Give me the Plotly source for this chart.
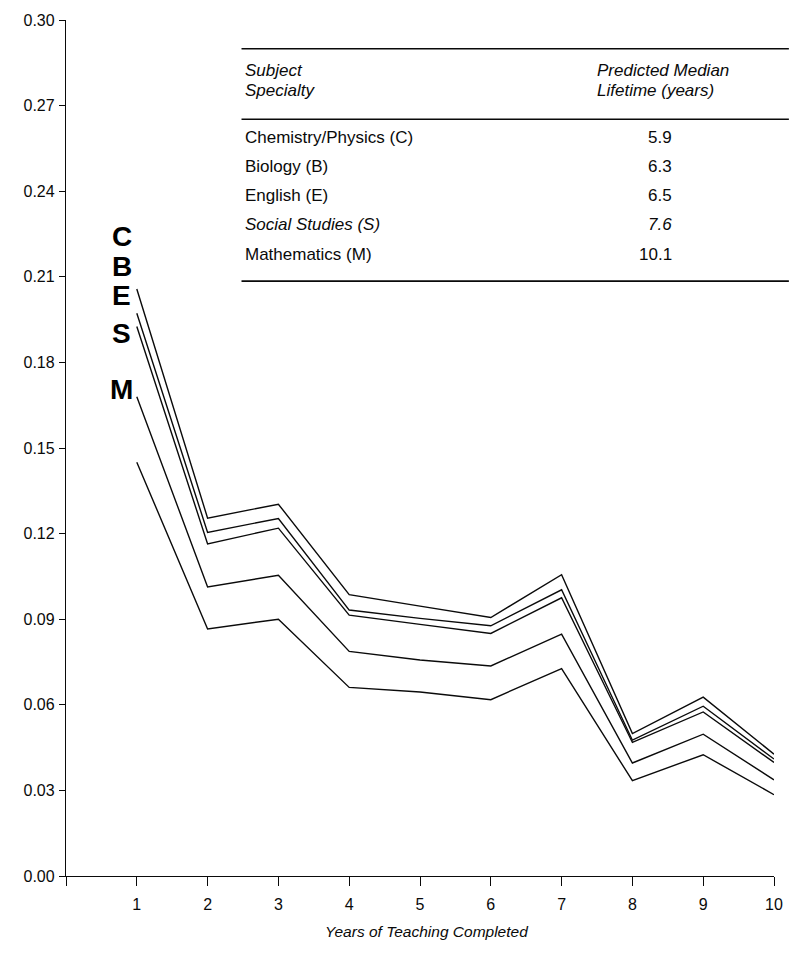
import plotly.graph_objects as go

# Years of teaching completed
years = [1, 2, 3, 4, 5, 6, 7, 8, 9, 10]

# Hazard of leaving, by subject specialty
chem_phys = [0.2057, 0.1254, 0.1303, 0.0986, 0.0946, 0.0906, 0.1056, 0.0499, 0.0627, 0.0427]
biology = [0.1972, 0.1204, 0.1253, 0.0932, 0.0903, 0.0877, 0.1003, 0.0476, 0.0595, 0.0410]
english = [0.1926, 0.1164, 0.1219, 0.0914, 0.0882, 0.0850, 0.0975, 0.0468, 0.0575, 0.0398]
social = [0.1680, 0.1013, 0.1054, 0.0787, 0.0757, 0.0736, 0.0848, 0.0396, 0.0497, 0.0337]
maths = [0.1450, 0.0866, 0.0900, 0.0661, 0.0645, 0.0618, 0.0727, 0.0334, 0.0425, 0.0285]

series_letters = ["C", "B", "E", "S", "M"]
series_values = [chem_phys, biology, english, social, maths]

# Table contents
subjects = ["Chemistry/Physics (C)", "Biology (B)", "English (E)",
            "Social Studies (S)", "Mathematics (M)"]
median_lifetime = ["5.9", "6.3", "6.5", "7.6", "10.1"]
italic_rows = [False, False, False, True, False]

y_ticks = [0.00, 0.03, 0.06, 0.09, 0.12, 0.15, 0.18, 0.21, 0.24, 0.27, 0.30]
x_ticks = [0, 1, 2, 3, 4, 5, 6, 7, 8, 9, 10]
x_tick_text = ["", "1", "2", "3", "4", "5", "6", "7", "8", "9", "10"]

# Label heights for the series letters (data units)
letter_y = [0.2242, 0.2137, 0.2036, 0.1900, 0.1706]

FONT = "Liberation Sans, Arial, Helvetica, sans-serif"
W, H = 795, 955
M_L, M_R, M_T, M_B = 66, 15, 14, 79
PW, PH = W - M_L - M_R, H - M_T - M_B


def px(x):
    return (x - M_L) / PW


def py(y):
    return (H - M_B - y) / PH


fig = go.Figure()
for letter, vals in zip(series_letters, series_values):
    fig.add_trace(go.Scatter(
        x=years, y=vals, mode="lines", name=letter,
        line=dict(color="#0a0a0a", width=1.4),
        showlegend=False, hoverinfo="skip",
    ))

annotations = []
for letter, ly in zip(series_letters, letter_y):
    annotations.append(dict(
        x=0.79, y=ly, xref="x", yref="y", text="<b>%s</b>" % letter,
        showarrow=False, xanchor="center", yanchor="middle",
        font=dict(family=FONT, size=28, color="#000000"),
    ))

tfont = dict(family=FONT, size=17, color="#0a0a0a")
left_x = px(244)
right_x = px(599)
value_x = px(679)

annotations += [
    dict(x=left_x, y=py(65), xref="paper", yref="paper", text="<i>Subject</i>",
         showarrow=False, xanchor="left", yanchor="middle", font=tfont),
    dict(x=left_x, y=py(85), xref="paper", yref="paper", text="<i>Specialty</i>",
         showarrow=False, xanchor="left", yanchor="middle", font=tfont),
    dict(x=right_x, y=py(65), xref="paper", yref="paper", text="<i>Predicted Median</i>",
         showarrow=False, xanchor="left", yanchor="middle", font=tfont),
    dict(x=right_x, y=py(85), xref="paper", yref="paper", text="<i>Lifetime (years)</i>",
         showarrow=False, xanchor="left", yanchor="middle", font=tfont),
]

row_y = [132, 162, 191, 220, 250]
for name, val, it, ry in zip(subjects, median_lifetime, italic_rows, row_y):
    n = "<i>%s</i>" % name if it else name
    v = "<i>%s</i>" % val if it else val
    annotations.append(dict(x=left_x, y=py(ry), xref="paper", yref="paper", text=n,
                            showarrow=False, xanchor="left", yanchor="middle", font=tfont))
    annotations.append(dict(x=value_x, y=py(ry), xref="paper", yref="paper", text=v,
                            showarrow=False, xanchor="right", yanchor="middle", font=tfont))

annotations.append(dict(
    x=5.1, y=py(932), xref="x", yref="paper", text="<i>Years of Teaching Completed</i>",
    showarrow=False, xanchor="center", yanchor="middle",
    font=dict(family=FONT, size=15.5, color="#0a0a0a"),
))

shapes = []
for ry in [43, 114, 277]:
    shapes.append(dict(type="line", xref="paper", yref="paper",
                       x0=px(243), x1=px(795), y0=py(ry), y1=py(ry),
                       line=dict(color="#0a0a0a", width=1.6)))

fig.update_layout(
    width=W, height=H,
    margin=dict(l=M_L, r=M_R, t=M_T, b=M_B),
    paper_bgcolor="white", plot_bgcolor="white",
    annotations=annotations, shapes=shapes,
    font=dict(family=FONT, size=14, color="#0a0a0a"),
    xaxis=dict(
        range=[0, 10], tickmode="array", tickvals=x_ticks, ticktext=x_tick_text,
        showgrid=False, zeroline=False, showline=True, linecolor="#0a0a0a", linewidth=1.3,
        ticks="outside", ticklen=9, tickwidth=1.2, tickcolor="#0a0a0a",
        ticklabelstandoff=5,
        tickfont=dict(family=FONT, size=16, color="#0a0a0a"),
        fixedrange=True,
    ),
    yaxis=dict(
        range=[0, 0.30], tickmode="array", tickvals=y_ticks,
        ticktext=["%.2f" % v for v in y_ticks],
        showgrid=False, zeroline=False, showline=True, linecolor="#0a0a0a", linewidth=1.3,
        ticks="outside", ticklen=6, tickwidth=1.2, tickcolor="#0a0a0a",
        ticklabelstandoff=1,
        tickfont=dict(family=FONT, size=16, color="#0a0a0a"),
        fixedrange=True,
    ),
)

fig.write_html("out.html")
